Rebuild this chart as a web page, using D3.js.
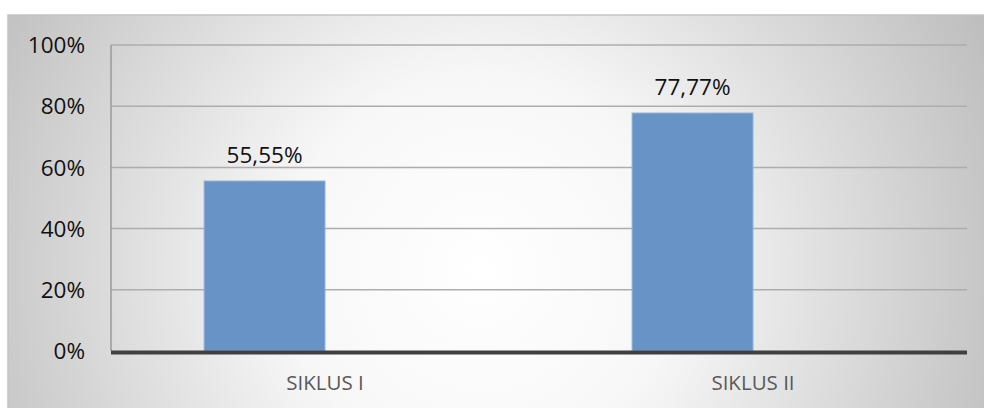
<!DOCTYPE html>
<html>
<head>
<script src="https://d3js.org/d3.v7.min.js"></script>
<style>
  body { margin: 0; background: #fff; }
  * { font-family: "Open Sans", sans-serif; }
</style>
</head>
<body>
<svg id="chart" width="984" height="408"></svg>
<script>
// data
const categories = ["SIKLUS I", "SIKLUS II"];
const values = [0.5555, 0.7777];
const valueLabels = ["55,55%", "77,77%"];
const yTicks = [0, 0.2, 0.4, 0.6, 0.8, 1.0];
const yTickLabels = ["0%", "20%", "40%", "60%", "80%", "100%"];
// the bars sit in the left half of each category slot (second slot is empty)
const slots = ["a", "b"];

const svg = d3.select("svg#chart");
const width = +svg.attr("width");
const height = +svg.attr("height");
const margin = { top: 45, right: 17, bottom: 57, left: 111 };

// background with radial gradient
const defs = svg.append("defs");
const grad = defs.append("radialGradient")
  .attr("id", "bg")
  .attr("gradientUnits", "userSpaceOnUse")
  .attr("cx", 480).attr("cy", 270).attr("r", 560);
grad.append("stop").attr("offset", "0%").attr("stop-color", "#ffffff");
grad.append("stop").attr("offset", "35%").attr("stop-color", "#f7f7f7");
grad.append("stop").attr("offset", "100%").attr("stop-color", "#bebebe");

svg.append("rect")
  .attr("x", 8).attr("y", 15)
  .attr("width", width - 8 + 2).attr("height", height - 15 + 2)
  .attr("fill", "url(#bg)")
  .attr("stroke", "#c4c4c4")
  .attr("stroke-width", 1.5);

const x0 = d3.scaleBand()
  .domain(categories)
  .range([margin.left, width - margin.right]);

const x1 = d3.scaleBand()
  .domain(slots)
  .range([0, x0.bandwidth()])
  .paddingOuter(0.77);

const y = d3.scaleLinear()
  .domain([0, 1])
  .range([height - margin.bottom, margin.top]);

// gridlines
svg.append("g")
  .selectAll("line")
  .data(yTicks.filter(d => d > 0))
  .join("line")
  .attr("x1", margin.left)
  .attr("x2", width - margin.right)
  .attr("y1", d => y(d))
  .attr("y2", d => y(d))
  .attr("stroke", "#adadad")
  .attr("stroke-width", 1.5);

// y axis line
svg.append("line")
  .attr("x1", margin.left).attr("x2", margin.left)
  .attr("y1", y(1)).attr("y2", y(0))
  .attr("stroke", "#9a9a9a")
  .attr("stroke-width", 1.5);

// y tick labels
svg.append("g")
  .selectAll("text")
  .data(yTicks)
  .join("text")
  .attr("x", 85)
  .attr("y", d => y(d))
  .attr("dy", "0.36em")
  .attr("text-anchor", "end")
  .style("font-size", "22.5px")
  .style("fill", "#111")
  .text((d, i) => yTickLabels[i]);

// bars
svg.append("g")
  .selectAll("rect")
  .data(values)
  .join("rect")
  .attr("x", (d, i) => x0(categories[i]) + x1("a"))
  .attr("y", d => y(d))
  .attr("width", x1.bandwidth())
  .attr("height", d => y(0) - y(d))
  .attr("fill", "#6893c7")
  .attr("stroke", "#93b2d8")
  .attr("stroke-width", 1);

// value labels
svg.append("g")
  .selectAll("text")
  .data(values)
  .join("text")
  .attr("x", (d, i) => x0(categories[i]) + x1("a") + x1.bandwidth() / 2)
  .attr("y", d => y(d) - 18)
  .attr("text-anchor", "middle")
  .style("font-size", "22.5px")
  .style("fill", "#111")
  .text((d, i) => valueLabels[i]);

// x axis line
svg.append("line")
  .attr("x1", margin.left).attr("x2", width - margin.right)
  .attr("y1", y(0) + 1.5).attr("y2", y(0) + 1.5)
  .attr("stroke", "#404040")
  .attr("stroke-width", 4);

// category labels
svg.append("g")
  .selectAll("text")
  .data(categories)
  .join("text")
  .attr("x", d => x0(d) + x0.bandwidth() / 2)
  .attr("y", 390)
  .attr("text-anchor", "middle")
  .style("font-size", "20.5px")
  .style("fill", "#595959")
  .text(d => d);
</script>
</body>
</html>
